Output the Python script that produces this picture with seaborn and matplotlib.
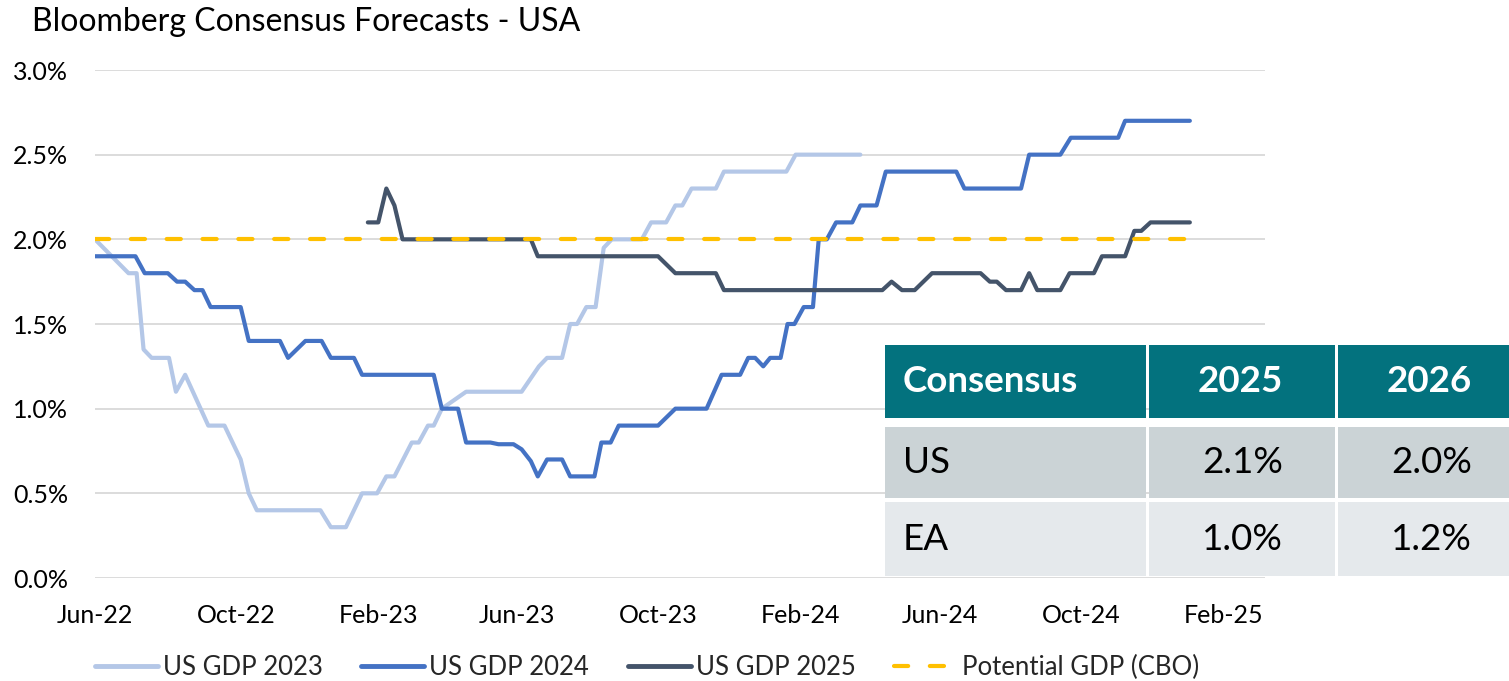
import matplotlib
matplotlib.use("Agg")
import matplotlib.pyplot as plt
import matplotlib.dates as mdates
from matplotlib.patches import Rectangle
from matplotlib.lines import Line2D
import pandas as pd
import seaborn as sns

# ---------------- data ----------------
gdp2023_dates = ["2022-06-01", "2022-06-30", "2022-07-07", "2022-07-13", "2022-07-20", "2022-08-04",
                 "2022-08-10", "2022-08-18", "2022-09-07", "2022-09-21", "2022-10-05", "2022-10-12",
                 "2022-10-19", "2022-12-13", "2022-12-22", "2023-01-04", "2023-01-18", "2023-01-31",
                 "2023-02-08", "2023-02-15", "2023-03-02", "2023-03-08", "2023-03-16", "2023-03-21",
                 "2023-03-28", "2023-04-18", "2023-06-05", "2023-06-20", "2023-06-27", "2023-07-10",
                 "2023-07-17", "2023-07-23", "2023-07-31", "2023-08-08", "2023-08-15", "2023-08-22",
                 "2023-09-17", "2023-09-25", "2023-10-08", "2023-10-16", "2023-10-22", "2023-10-30",
                 "2023-11-20", "2023-11-27", "2024-01-20", "2024-01-28", "2024-03-24"]
gdp2023_values = [2.0, 1.8, 1.8, 1.35, 1.3, 1.3,
                  1.1, 1.2, 0.9, 0.9, 0.7, 0.5,
                  0.4, 0.4, 0.3, 0.3, 0.5, 0.5,
                  0.6, 0.6, 0.8, 0.8, 0.9, 0.9,
                  1.0, 1.1, 1.1, 1.25, 1.3, 1.3,
                  1.5, 1.5, 1.6, 1.6, 1.95, 2.0,
                  2.0, 2.1, 2.1, 2.2, 2.2, 2.3,
                  2.3, 2.4, 2.4, 2.5, 2.5]

gdp2024_dates = ["2022-06-01", "2022-07-06", "2022-07-14", "2022-08-03", "2022-08-11", "2022-08-18",
                 "2022-08-26", "2022-09-02", "2022-09-09", "2022-10-05", "2022-10-12", "2022-11-08",
                 "2022-11-15", "2022-11-30", "2022-12-14", "2022-12-22", "2023-01-11", "2023-01-18",
                 "2023-03-21", "2023-03-28", "2023-04-11", "2023-04-18", "2023-05-09", "2023-05-16",
                 "2023-05-29", "2023-06-05", "2023-06-13", "2023-06-19", "2023-06-27", "2023-07-10",
                 "2023-07-17", "2023-08-07", "2023-08-13", "2023-08-21", "2023-08-28", "2023-10-01",
                 "2023-10-16", "2023-11-12", "2023-11-25", "2023-12-11", "2023-12-18", "2023-12-24",
                 "2023-12-31", "2024-01-06", "2024-01-15", "2024-01-21", "2024-01-27", "2024-02-04",
                 "2024-02-12", "2024-02-17", "2024-02-24", "2024-03-03", "2024-03-17", "2024-03-24",
                 "2024-04-07", "2024-04-15", "2024-06-15", "2024-06-22", "2024-08-10", "2024-08-17",
                 "2024-09-13", "2024-09-22", "2024-11-02", "2024-11-08", "2025-01-03"]
gdp2024_values = [1.9, 1.9, 1.8, 1.8, 1.75, 1.75,
                  1.7, 1.7, 1.6, 1.6, 1.4, 1.4,
                  1.3, 1.4, 1.4, 1.3, 1.3, 1.2,
                  1.2, 1.0, 1.0, 0.8, 0.8, 0.79,
                  0.79, 0.76, 0.69, 0.6, 0.7, 0.7,
                  0.6, 0.6, 0.8, 0.8, 0.9, 0.9,
                  1.0, 1.0, 1.2, 1.2, 1.3, 1.3,
                  1.25, 1.3, 1.3, 1.5, 1.5, 1.6,
                  1.6, 2.0, 2.0, 2.1, 2.1, 2.2,
                  2.2, 2.4, 2.4, 2.3, 2.3, 2.5,
                  2.5, 2.6, 2.6, 2.7, 2.7]

gdp2025_dates = ["2023-01-23", "2023-02-01", "2023-02-08", "2023-02-15", "2023-02-22", "2023-06-13",
                 "2023-06-19", "2023-10-01", "2023-10-16", "2023-11-20", "2023-11-27", "2024-04-12",
                 "2024-04-20", "2024-04-29", "2024-05-10", "2024-05-25", "2024-07-06", "2024-07-14",
                 "2024-07-20", "2024-07-28", "2024-08-10", "2024-08-17", "2024-08-24", "2024-09-13",
                 "2024-09-21", "2024-10-12", "2024-10-19", "2024-11-08", "2024-11-16", "2024-11-22",
                 "2024-11-30", "2025-01-03"]
gdp2025_values = [2.1, 2.1, 2.3, 2.2, 2.0, 2.0,
                  1.9, 1.9, 1.8, 1.8, 1.7, 1.7,
                  1.75, 1.7, 1.7, 1.8, 1.8, 1.75,
                  1.75, 1.7, 1.7, 1.8, 1.7, 1.7,
                  1.8, 1.8, 1.9, 1.9, 2.05, 2.05,
                  2.1, 2.1]

potential_dates = ["2022-06-01", "2025-01-03"]
potential_values = [2.0, 2.0]

series_names = ["US GDP 2023", "US GDP 2024", "US GDP 2025", "Potential GDP (CBO)"]

tick_dates = ["2022-06-01", "2022-10-01", "2023-02-01", "2023-06-01", "2023-10-01",
              "2024-02-01", "2024-06-01", "2024-10-01", "2025-02-01"]
y_ticks = [0.0, 0.5, 1.0, 1.5, 2.0, 2.5, 3.0]

table_header = ["Consensus", "2025", "2026"]
table_rows = ["US", "EA"]
table_2025 = ["2.1%", "1.0%"]
table_2026 = ["2.0%", "1.2%"]

title = "Bloomberg Consensus Forecasts - USA"

# ---------------- style ----------------
sns.set_style("white")
plt.rcParams["font.family"] = ["Lato", "DejaVu Sans"]

colors = ["#B4C7E7", "#4472C4", "#44546A", "#FFC000"]

W, H = 1509, 681
fig = plt.figure(figsize=(W / 100, H / 100), dpi=100)
ax = fig.add_axes([95 / W, 1 - 578 / H, (1265 - 95) / W, (578 - 70) / H])

frames = [
    (gdp2023_dates, gdp2023_values),
    (gdp2024_dates, gdp2024_values),
    (gdp2025_dates, gdp2025_values),
    (potential_dates, potential_values),
]
for i, (d, v) in enumerate(frames):
    df = pd.DataFrame({"date": pd.to_datetime(d), "value": v})
    kw = dict(color=colors[i], linewidth=3.0, solid_joinstyle="round", solid_capstyle="round")
    if i == 3:
        kw = dict(color=colors[i], linewidth=3.0, dashes=(3.4, 5.2), dash_capstyle="round")
    sns.lineplot(data=df, x="date", y="value", ax=ax, estimator=None, sort=False,
                 zorder=3 + (1 if i == 3 else 0), **kw)

ax.set_ylim(0, 3.0)
ax.set_xlim(pd.Timestamp("2022-06-01"), pd.Timestamp("2025-03-09"))
ax.set_yticks(y_ticks)
ax.set_yticklabels([f"{t:.1f}%" for t in y_ticks])
ax.set_xticks(pd.to_datetime(tick_dates))
ax.xaxis.set_major_formatter(mdates.DateFormatter("%b-%y"))
ax.grid(axis="y", color="#D9D9D9", linewidth=1.3, zorder=0)
ax.grid(axis="x", visible=False)
for s in ax.spines.values():
    s.set_visible(False)
ax.tick_params(axis="both", length=0, labelsize=18, colors="#000000")
ax.tick_params(axis="y", pad=19.5)
ax.tick_params(axis="x", pad=19)
ax.set_xlabel("")
ax.set_ylabel("")
if ax.get_legend():
    ax.get_legend().remove()

fig.text(32 / W, 1 - 22 / H, title, fontsize=23, ha="left", va="center", color="#000000")

# legend
handles = []
for i, name in enumerate(series_names):
    if i == 3:
        h = Line2D([], [], color=colors[i], lw=3.0, dashes=(3.4, 5.2), dash_capstyle="round")
    else:
        h = Line2D([], [], color=colors[i], lw=3.5)
    handles.append(h)
fig.legend(handles, series_names, loc="center", bbox_to_anchor=(647 / W, 1 - 667 / H),
           ncol=4, frameon=False, fontsize=18.5, handlelength=2.45, handletextpad=0.2,
           columnspacing=1.5, borderpad=0)

# table (figure coordinates)
col_x = [(885, 1146), (1149, 1335), (1338, 1509)]
row_y = [(345, 418), (427, 498), (502, 576)]
row_colors = ["#03727E", "#CBD3D6", "#E5E9EC"]
for r, (y0, y1) in enumerate(row_y):
    for (x0, x1) in col_x:
        fig.patches.append(Rectangle((x0 / W, 1 - y1 / H), (x1 - x0) / W, (y1 - y0) / H,
                                     transform=fig.transFigure, facecolor=row_colors[r],
                                     edgecolor="none", zorder=5))
cells = [table_header,
         [table_rows[0], table_2025[0], table_2026[0]],
         [table_rows[1], table_2025[1], table_2026[1]]]
text_right = [None, 1283, 1472]
for r, row in enumerate(cells):
    yc = 1 - ((row_y[r][0] + row_y[r][1]) / 2) / H
    for c, txt in enumerate(row):
        kw = dict(fontsize=26.5, va="center", zorder=6,
                  color="white" if r == 0 else "#000000",
                  fontweight="bold" if r == 0 else "normal")
        if c == 0:
            fig.text(903 / W, yc, txt, ha="left", **kw)
        else:
            fig.text(text_right[c] / W, yc, txt, ha="right", **kw)

fig.savefig("out.png", dpi=100)
